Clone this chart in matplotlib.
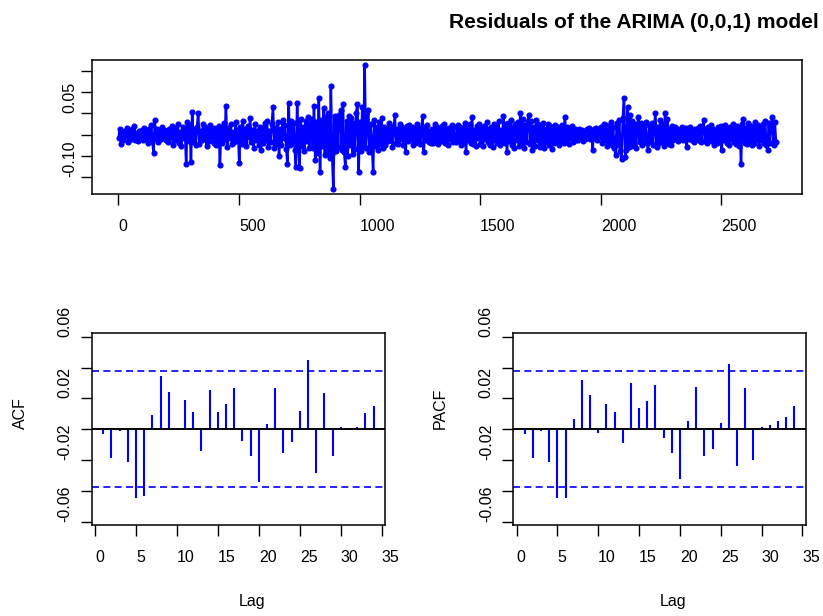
import numpy as np
import matplotlib
matplotlib.use("Agg")
import matplotlib.pyplot as plt

plt.rcParams['font.family'] = ['Liberation Sans', 'DejaVu Sans']

resid_milli = [
    -8, 12, -22, 5, -14, 9, -3, 15, -18, 6, -10, 13, -6, 20, -12, 3, -16, 8, -4, 11,
    -12, 16, -7, 9, -20, 14, -5, 22, -15, -45, 34, -9, 12, -18, 6, -11, 19, -4, 10, -14,
    8, -17, 13, -6, 21, -24, 4, 15, -12, 25, -19, 7, -28, 18, -9, 12, -70, 30, -15, 22,
    -65, 54, -18, 12, -25, 17, 52, -22, 9, -14, 26, -8, 19, -27, 11, -16, 23, -5, 14, -21,
    15, -26, 8, 20, -73, 12, -19, 27, -11, 68, -30, 16, -9, 24, -22, 6, -17, 29, -13, 10,
    -67, 18, -23, 31, -10, 14, -28, 21, -6, 40, -18, 11, -32, 25, -14, 8, -24, 19, -36, 13,
    -20, 27, -12, 33, -29, 9, -17, 24, 66, -31, 15, -22, 30, -50, 12, -26, 35, -8, 22, -34,
    -69, 74, -25, 33, -18, 28, -36, -78, 74, -20, -80, 36, -28, 19, -40, 31, -15, 42, -33, 25,
    38, -32, 68, -60, 29, -44, 86, -88, 35, -27, 62, -49, 41, -38, 50, -55, 115, -46, -130, 44,
    -40, 35, -29, 47, 58, -36, 73, -42, -78, 31, -50, 44, -25, 39, -47, 28, -34, 52, 73, -88,
    30, -38, 65, -27, 165, -33, 22, 58, -41, 26, -19, -88, 34, -28, 17, -36, 29, -22, 40, -31,
    18, -24, 11, -16, 27, -13, 21, -29, 8, 46, -19, 14, -23, 25, -10, 17, -26, 12, -41, 20,
    -15, 22, -9, 18, -25, 13, -20, 26, -12, 16, -22, 10, 45, -41, 19, -14, 23, -18, 8, -21,
    14, -19, 24, -11, 17, -23, 9, -16, 21, -8, 26, -20, 12, -25, 15, -10, 22, -17, 18, -13,
    -18, 23, -14, 19, -26, 12, -21, 27, -41, 16, -12, 24, -19, 42, -23, 10, -28, 20, -9, 25,
    -22, 15, -27, 21, -11, 29, -17, 13, -24, 18, -30, 26, -14, 22, -20, 31, -25, 11, -16, 45,
    -19, 24, -41, 28, -15, 34, -26, 17, -31, 25, -12, 30, -28, 52, -20, 36, -33, 22, -17, 29,
    46, -22, 31, -37, 18, -27, 35, -14, 24, -30, 16, -21, 28, -33, 13, -18, 26, -24, 20, -35,
    14, -20, 23, -12, 17, -26, 10, -15, 22, -19, 42, -11, 18, -23, 15, -9, 21, -17, 12, -14,
    9, -12, 14, -8, 11, -15, 7, -10, 13, -6, 16, -11, 8, -37, 12, -9, 15, -13, 10, -7,
    18, -21, 26, -14, 22, -28, 13, -19, 30, -24, 17, -32, -49, 28, -26, 35, -38, -57, 40, 86,
    -53, -36, 65, -30, 46, -27, 33, -22, 25, -31, 19, 42, -18, 27, -25, 21, -16, 30, -20, -37,
    22, -17, 28, -24, 15, 52, -29, 19, -21, 34, -13, 25, -27, 52, -18, 38, -23, 14, -26, 20,
    -12, 17, -9, 14, -16, 11, -7, 19, -13, 8, 15, -30, 12, -10, 18, -14, 9, -17, 13, -8,
    16, -13, 20, -18, 10, 35, -15, 12, -21, 17, -9, 22, -16, 14, -24, 11, -19, 18, -12, 21,
    -37, 19, -14, 23, -20, 12, -26, 17, -11, 25, -18, 14, -23, 20, -28, 16, -70, 24, 38, -19,
    15, -22, 27, -16, 20, -25, 13, -19, 29, -14, 23, -27, 18, -12, 26, -21, 31, -24, -37, 28,
    -20, 25, 42, -26, 30, -18,
]
resid = np.array(resid_milli) / 1000.0
obs = np.arange(1, 5 * len(resid), 5)

lags = np.arange(1, 35)
acf_vals = [-0.0032, -0.0188, -0.0015, -0.0214, -0.0447, -0.0436, 0.0093, 0.0346,
            0.0242, 0.0004, 0.0190, 0.0112, -0.0145, 0.0251, 0.0112, 0.0164, 0.0268,
            -0.0076, -0.0171, -0.0343, 0.0035, 0.0268, -0.0153, -0.0084, 0.0121,
            0.0449, -0.0283, 0.0233, -0.0171, 0.0011, 0.0004, 0.0017, 0.0104, 0.0147]
pacf_vals = [-0.0032, -0.0188, -0.0015, -0.0214, -0.0447, -0.0447, 0.0069, 0.0320,
             0.0222, -0.0024, 0.0164, 0.0112, -0.0093, 0.0302, 0.0138, 0.0181, 0.0285,
             -0.0058, -0.0153, -0.0326, 0.0052, 0.0276, -0.0171, -0.0127, 0.0043,
             0.0423, -0.0240, 0.0268, -0.0197, 0.0017, 0.0026, 0.0052, 0.0078, 0.0147]
conf = 0.0376

W, H = 823, 616
fig = plt.figure(figsize=(W / 100, H / 100), dpi=100)


def box(l, t, r, b):
    return [l / W, 1 - b / H, (r - l) / W, (b - t) / H]


fs = 11.5


def style(ax, ypad):
    for s in ax.spines.values():
        s.set_linewidth(1.1)
    ax.tick_params(length=8, width=1.0, labelsize=fs)
    ax.tick_params(axis='x', pad=10)
    ax.tick_params(axis='y', pad=ypad)
    for lab in ax.get_xticklabels():
        lab.set_ha('left')
    for lab in ax.get_yticklabels():
        lab.set_rotation(90)
        lab.set_va('bottom')


# top: residual series
ax1 = fig.add_axes(box(92.3, 60, 802.3, 194.3))
ax1.plot(obs, resid, color='blue', lw=1.8, marker='o', ms=3.4, mec='blue', mfc='blue')
ax1.margins(0.04)
ax1.set_xticks([0, 500, 1000, 1500, 2000, 2500])
ax1.set_yticks([-0.10, -0.05, 0, 0.05, 0.10, 0.15], ['-0.10', '', '', '0.05', '', ''])
style(ax1, 3)
fig.text(449 / W, 1 - 28.5 / H, 'Residuals of the ARIMA (0,0,1) model',
         fontsize=15.1, fontweight='bold', ha='left', va='baseline')


def corr_panel(rect, vals, name, lab_x):
    ax = fig.add_axes(rect)
    ax.vlines(lags, 0, vals, color='blue', lw=1.5)
    ax.axhline(0, color='black', lw=1.4)
    ax.axhline(conf, color='blue', lw=1.2, ls=(0, (4.2, 2.6)))
    ax.axhline(-conf, color='blue', lw=1.2, ls=(0, (4.2, 2.6)))
    ax.set_xlim(-0.4, 35.4)
    ax.set_ylim(-0.0622, 0.0622)
    ax.set_xticks(np.arange(0, 36, 5))
    ax.set_yticks([-0.06, -0.04, -0.02, 0, 0.02, 0.04, 0.06],
                  ['-0.06', '', '-0.02', '', '0.02', '', '0.06'])
    style(ax, 6)
    ax.text(0.5, -0.4225, 'Lag', transform=ax.transAxes, fontsize=fs,
            ha='left', va='baseline')
    ax.text(lab_x, 0.5, name, transform=ax.transAxes, fontsize=fs,
            rotation=90, ha='center', va='bottom')
    return ax


corr_panel(box(91.7, 333.3, 385, 525), acf_vals, 'ACF', -0.2445)
corr_panel(box(513.3, 333.3, 805.7, 525), pacf_vals, 'PACF', -0.25)

fig.savefig('out.png', dpi=100)
